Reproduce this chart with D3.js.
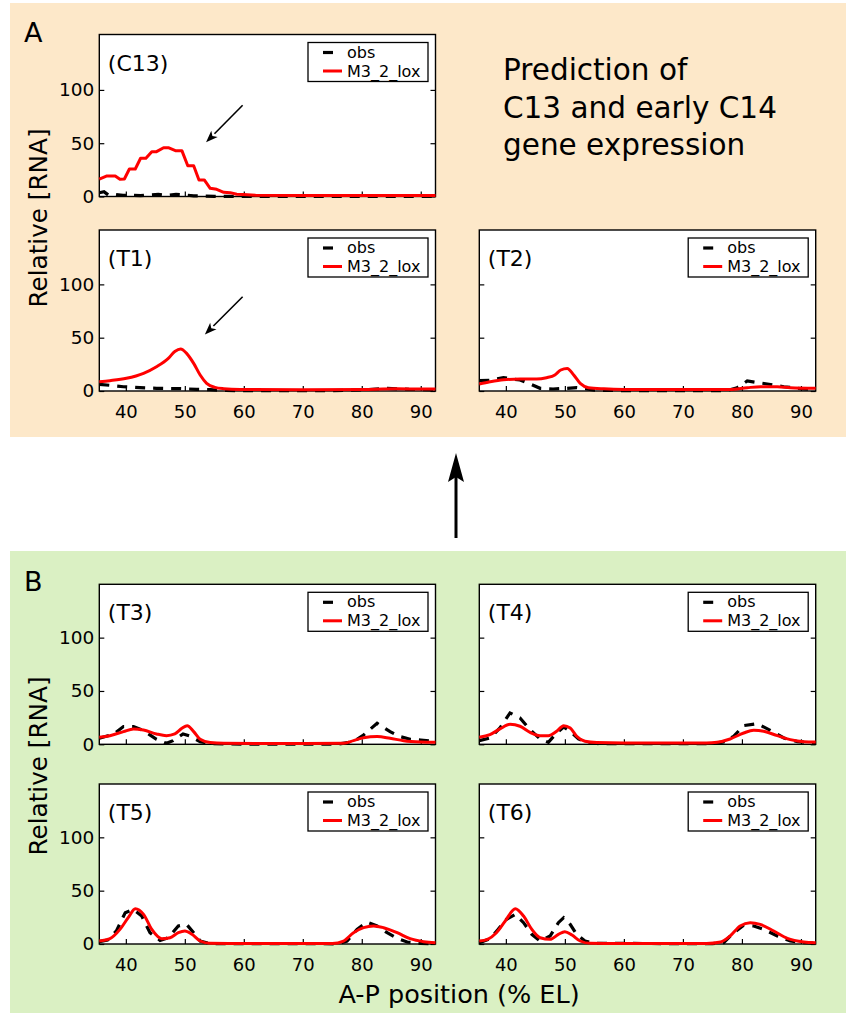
<!DOCTYPE html>
<html>
<head>
<meta charset="utf-8">
<script src="https://cdn.jsdelivr.net/npm/d3@7"></script>
<style>
  html, body { margin: 0; padding: 0; background: #fff; }
  svg { display: block; }
  text { font-family: "DejaVu Sans", sans-serif; fill: #000; }
</style>
</head>
<body>
<svg id="chart" width="846" height="1014"></svg>
<script>
// ---------------- data ----------------
const X_TICKS = [40, 50, 60, 70, 80, 90];
const Y_TICKS = [0, 50, 100];
const SERIES_NAMES = ["obs", "M3_2_lox"];
const PANEL_LABELS = ["(C13)", "(T1)", "(T2)", "(T3)", "(T4)", "(T5)", "(T6)"];
const TITLE_LINES = ["Prediction of", "C13 and early C14", "gene expression"];

const c13_obs = [[35.5,3.5],[36.3,4.5],[37,1.5],[38.2,2],[39.5,1],[41,1.2],[42.5,0.8],[44,1.5],[45.5,2],[47,1],[48.5,2],[50,1.5],[51.5,0.6],[53,0.5],[55,0.2],[60,0],[92.5,0]];
const c13_model = [[35.5,16.4],[36.7,19.2],[38.2,19.2],[39.0,16.1],[39.75,16.4],[40.6,25.8],[41.6,25.8],[42.5,35.9],[43.4,35.9],[44.4,42.1],[45.2,42.1],[46.4,45.8],[47.2,45.8],[48.4,43.0],[49.5,43.0],[50.5,28.9],[51.5,28.9],[52.4,15.5],[53.3,15.5],[54.3,7.7],[55.4,6.8],[56.6,3.9],[57.7,3.6],[58.8,2.1],[59.9,1.8],[62,1.2],[70,1],[80,1],[92.5,1]];

const t1_obs = [[35.5,6.3],[37.5,5.2],[39.6,4],[42.4,3.1],[45.2,2.5],[49.2,2.2],[52,1.6],[54.3,1.2],[57,0.5],[60,0.3],[75,0.3],[80,1],[84.3,2.5],[88,1.5],[92.5,1]];
const t1_model = [[35.5,8.7],[37.3,9.7],[40.1,11.9],[43,16.6],[45.2,22.8],[47.2,30.6],[48.3,37],[49.3,39.4],[50.3,35.3],[51.5,25.9],[52.6,15],[53.7,7.2],[55.1,3.4],[56.6,2.2],[59.4,1.5],[70,1.2],[80,1.5],[86,2],[92.5,1.8]];

const t2_obs = [[35.5,9.7],[37.3,10],[39.6,12.5],[42.4,10.3],[44.1,6.6],[45.8,2.5],[48,1.9],[50.3,2.5],[52,3.1],[53.7,1.9],[55,0.8],[60,0.3],[75,0.3],[77.5,0.5],[79.2,3.1],[80.9,9.4],[83.2,7.5],[85.4,5.6],[87.1,4],[90.5,1.9],[92.5,1.5]];
const t2_model = [[35.5,6.6],[37.3,8.7],[39.6,10.6],[42.4,11.2],[45.2,11.2],[46.9,12.5],[48.3,15],[49.3,19.7],[50.4,21.2],[51.5,15],[52.6,7.2],[54,3.1],[56.6,2],[60,1.5],[78,1.5],[80.9,3.1],[83.2,4],[86,4],[88.2,3.1],[92.5,2.5]];

const t3_obs = [[35.5,5.6],[37.9,9.4],[39.6,16.6],[41.3,16.6],[43,12.8],[45.2,4.7],[46.9,0.9],[48,3.4],[49.7,9.7],[50.8,7.8],[52.6,2.5],[54.3,0.6],[60,0.2],[76,0.2],[78.6,2.5],[80.3,8.7],[82.6,19.7],[84.8,11.9],[86.5,7.2],[88.2,4.7],[90,4],[92.5,2.5]];
const t3_model = [[35.5,6.6],[37.3,8.1],[39.6,11.9],[41.3,14.4],[43,13.4],[45.2,9.7],[46.9,8.1],[48.3,9.7],[49.5,15],[50.4,17.5],[51.5,11.9],[52.6,4.7],[54.3,1.6],[56.6,0.9],[70,0.8],[76.9,1],[78.6,3.4],[80.3,6.2],[82.6,7.2],[84.8,5.6],[87.1,3.4],[90,2.2],[92.5,1.9]];

const t4_obs = [[35.5,3.4],[37.3,5.9],[39,15.3],[40.7,29.4],[42.4,24.7],[44.1,13.7],[45.8,5],[47.2,1.9],[48.6,10.6],[49.8,16.2],[50.9,12.2],[52.3,5],[53.7,1.9],[56,0.5],[75,0.5],[76.9,2.2],[78.6,7.5],[80.3,17.5],[82.6,19.4],[84.8,13.1],[87.1,5.9],[89.4,2.5],[92.5,1.2]];
const t4_model = [[35.5,6.6],[37.3,9.1],[39,14.4],[40.7,18.7],[42.4,16.9],[44.1,11.2],[45.8,8.1],[47.2,8.1],[48.6,12.2],[49.8,17.5],[50.9,15.3],[52,7.5],[53.4,2.8],[55.4,1.6],[60,1.2],[74,1.2],[75.8,1.9],[78,5],[80.3,10.6],[82,13.1],[83.7,12.2],[86,8.1],[88.2,4.4],[90.5,2.5],[92.5,2.2]];

const t5_obs = [[35.5,2.2],[36.9,3.7],[38.4,12.2],[39.9,29.4],[41.3,32.5],[42.7,26.2],[44.1,10.6],[45.8,3.4],[47.2,5.9],[48.9,16.9],[50.3,18.4],[51.5,10.6],[52.6,2.8],[54.3,0.3],[76,0.2],[77.5,2.8],[79.2,13.7],[80.9,20.6],[82.6,16.9],[84.3,10.6],[86,5.3],[87.7,1.9],[90,0.6],[92.5,0.3]];
const t5_model = [[35.5,2.8],[37.3,5],[39,13.7],[40.4,24.7],[41.6,33.1],[43,27.8],[44.4,13.7],[46.1,5],[47.5,5.9],[48.9,10.6],[50,12.2],[51.2,9.1],[52.6,2.8],[54.3,0.6],[60,0.5],[75,0.5],[76.9,2.8],[78.6,10.6],[80.3,15.3],[82,16.9],[83.7,15.3],[86,10.6],[88.2,5],[90.5,2.2],[92.5,1.2]];

const t6_obs = [[35.5,1.2],[37.3,5],[38.7,13.7],[40.1,23.1],[41.6,27.8],[43,20],[44.4,9.1],[45.8,2.8],[47.5,7.5],[48.9,20],[49.8,24.7],[50.9,18.4],[52,9.1],[53.4,2.8],[55,0.6],[75,0.3],[76.9,1.2],[78.6,10.6],[80.3,17.5],[82,16.9],[83.7,13.7],[86,7.5],[88.2,2.8],[90.5,1.2],[92.5,0.8]];
const t6_model = [[35.5,2.8],[36.9,4.4],[38.4,10.6],[39.9,21.6],[41.6,33.1],[43,26.2],[44.4,13.7],[45.8,5.9],[47.5,4.4],[48.9,9.1],[50,11.6],[51.2,8.4],[52.6,2.8],[54.3,0.6],[60,0.5],[74,0.5],[76.4,1.9],[78,7.5],[79.7,16.9],[81.4,20],[83.1,18.4],[85.4,12.2],[87.7,5.3],[90.5,1.9],[92.5,1.2]];

// annotation arrows in data coords: [tail, tip]
const c13_arrow = [[59.8, 85.6], [53.6, 50.8]];
const t1_arrow = [[59.8, 88.4], [53.4, 53.0]];

// ---------------- layout ----------------
const X_DOMAIN = [35.5, 92.5];
const COLS = [[99.3, 435.5], [479.3, 815.7]];
const PANELS = [
  { label: PANEL_LABELS[0], obs: c13_obs, model: c13_model, col: 0, top: 34.5, bottom: 196.5, ymax: 152, xLabels: false, yLabels: true, linear: true, arrow: c13_arrow },
  { label: PANEL_LABELS[1], obs: t1_obs, model: t1_model, col: 0, top: 230, bottom: 391, ymax: 151, xLabels: true, yLabels: true, arrow: t1_arrow },
  { label: PANEL_LABELS[2], obs: t2_obs, model: t2_model, col: 1, top: 230, bottom: 391, ymax: 151, xLabels: true, yLabels: false },
  { label: PANEL_LABELS[3], obs: t3_obs, model: t3_model, col: 0, top: 584.3, bottom: 744.3, ymax: 150, xLabels: false, yLabels: true },
  { label: PANEL_LABELS[4], obs: t4_obs, model: t4_model, col: 1, top: 584.3, bottom: 744.3, ymax: 150, xLabels: false, yLabels: false },
  { label: PANEL_LABELS[5], obs: t5_obs, model: t5_model, col: 0, top: 784, bottom: 944, ymax: 150, xLabels: true, yLabels: true },
  { label: PANEL_LABELS[6], obs: t6_obs, model: t6_model, col: 1, top: 784, bottom: 944, ymax: 150, xLabels: true, yLabels: false }
];

const svg = d3.select("#chart");
svg.append("rect").attr("x", 0).attr("y", 0).attr("width", 846).attr("height", 1014).attr("fill", "#fff");

// section backgrounds
svg.append("rect").attr("x", 10).attr("y", 3).attr("width", 836).attr("height", 434).attr("fill", "#fde8c9");
svg.append("rect").attr("x", 10).attr("y", 551).attr("width", 836).attr("height", 462).attr("fill", "#daf0c3");

// section letters
svg.append("text").attr("x", 24).attr("y", 42).attr("font-size", 27).text("A");
svg.append("text").attr("x", 24).attr("y", 591).attr("font-size", 27).text("B");

// title
TITLE_LINES.forEach((t, i) => {
  svg.append("text").attr("x", 503).attr("y", 80 + i * 37.5).attr("font-size", 29.5).text(t);
});

// y axis labels
[218, 766].forEach(cy => {
  svg.append("text")
    .attr("transform", `translate(47,${cy}) rotate(-90)`)
    .attr("text-anchor", "middle")
    .attr("font-size", 24.7)
    .text("Relative [RNA]");
});

// x axis label
svg.append("text").attr("x", 459).attr("y", 1003).attr("text-anchor", "middle").attr("font-size", 25.5).text("A-P position (% EL)");

// big arrow between sections
svg.append("line").attr("x1", 456).attr("y1", 538).attr("x2", 456).attr("y2", 474).attr("stroke", "#000").attr("stroke-width", 3);
svg.append("path").attr("d", "M456,453 L448,482 L456,477 L464,482 Z").attr("fill", "#000");

const TICK = 5;

PANELS.forEach(p => {
  const [x0, x1] = COLS[p.col];
  const x = d3.scaleLinear().domain(X_DOMAIN).range([x0, x1]);
  const y = d3.scaleLinear().domain([0, p.ymax]).range([p.bottom, p.top]);
  const g = svg.append("g");

  g.append("rect").attr("x", x0).attr("y", p.top).attr("width", x1 - x0).attr("height", p.bottom - p.top).attr("fill", "#fff");

  // ticks (inward)
  const bottomAxis = d3.axisBottom(x).tickValues(X_TICKS).tickSizeInner(-TICK).tickSizeOuter(0).tickPadding(10);
  const ax = g.append("g").attr("transform", `translate(0,${p.bottom})`).call(bottomAxis);
  ax.select(".domain").remove();
  ax.selectAll(".tick line").attr("stroke", "#000").attr("stroke-width", 1.2);
  ax.selectAll(".tick text").attr("font-size", 18).attr("font-family", "DejaVu Sans").attr("fill", "#000").attr("dy", "0.95em");
  if (!p.xLabels) ax.selectAll(".tick text").remove();

  const leftAxis = d3.axisLeft(y).tickValues(Y_TICKS).tickSizeInner(-TICK).tickSizeOuter(0).tickPadding(10);
  const ay = g.append("g").attr("transform", `translate(${x0},0)`).call(leftAxis);
  ay.select(".domain").remove();
  ay.selectAll(".tick line").attr("stroke", "#000").attr("stroke-width", 1.2);
  ay.selectAll(".tick text").attr("font-size", 18.5).attr("font-family", "DejaVu Sans").attr("fill", "#000").attr("x", -5);
  if (!p.yLabels) ay.selectAll(".tick text").remove();

  const rightAxis = d3.axisRight(y).tickValues(Y_TICKS).tickSizeInner(-TICK).tickSizeOuter(0).tickFormat("");
  const ar = g.append("g").attr("transform", `translate(${x1},0)`).call(rightAxis);
  ar.select(".domain").remove();
  ar.selectAll(".tick line").attr("stroke", "#000").attr("stroke-width", 1.2);

  // frame
  g.append("rect").attr("x", x0).attr("y", p.top).attr("width", x1 - x0).attr("height", p.bottom - p.top)
    .attr("fill", "none").attr("stroke", "#000").attr("stroke-width", 1.4);

  // lines
  const obsLine = d3.line().x(d => x(d[0])).y(d => y(d[1])).curve(d3.curveLinear);
  const modelLine = d3.line().x(d => x(d[0])).y(d => y(d[1])).curve(p.linear ? d3.curveLinear : d3.curveMonotoneX);

  g.append("path").attr("d", obsLine(p.obs)).attr("fill", "none").attr("stroke", "#000")
    .attr("stroke-width", 3.2).attr("stroke-dasharray", "10,8");
  g.append("path").attr("d", modelLine(p.model)).attr("fill", "none").attr("stroke", "#ff0000")
    .attr("stroke-width", 3).attr("stroke-linejoin", "round");

  // panel label
  g.append("text").attr("x", x0 + 8.5).attr("y", p.top + 36).attr("font-size", 22).text(p.label);

  // legend
  const lx = x1 - 127.5, ly = p.top + 8;
  g.append("rect").attr("x", lx).attr("y", ly).attr("width", 120).attr("height", 39)
    .attr("fill", "#fff").attr("stroke", "#000").attr("stroke-width", 1.3);
  g.append("line").attr("x1", lx + 15).attr("x2", lx + 34).attr("y1", ly + 10).attr("y2", ly + 10)
    .attr("stroke", "#000").attr("stroke-width", 3.2).attr("stroke-dasharray", "10,9");
  g.append("line").attr("x1", lx + 15).attr("x2", lx + 34).attr("y1", ly + 28.5).attr("y2", ly + 28.5)
    .attr("stroke", "#ff0000").attr("stroke-width", 3);
  g.append("text").attr("x", lx + 39).attr("y", ly + 15).attr("font-size", 16).text(SERIES_NAMES[0]);
  g.append("text").attr("x", lx + 39).attr("y", ly + 34).attr("font-size", 16).text(SERIES_NAMES[1]);

  // annotation arrow
  if (p.arrow) {
    const [tail, tip] = p.arrow;
    const tx = x(tail[0]), ty = y(tail[1]), hx = x(tip[0]), hy = y(tip[1]);
    const ang = Math.atan2(hy - ty, hx - tx);
    const hl = 12, hw = 4.5;
    const bx = hx - hl * Math.cos(ang), by = hy - hl * Math.sin(ang);
    g.append("line").attr("x1", tx).attr("y1", ty).attr("x2", bx).attr("y2", by)
      .attr("stroke", "#000").attr("stroke-width", 1.6);
    const px = -Math.sin(ang), py = Math.cos(ang);
    g.append("path")
      .attr("d", `M${hx},${hy} L${bx + hw * px},${by + hw * py} L${bx + 3 * Math.cos(ang)},${by + 3 * Math.sin(ang)} L${bx - hw * px},${by - hw * py} Z`)
      .attr("fill", "#000");
  }
});
</script>
</body>
</html>
